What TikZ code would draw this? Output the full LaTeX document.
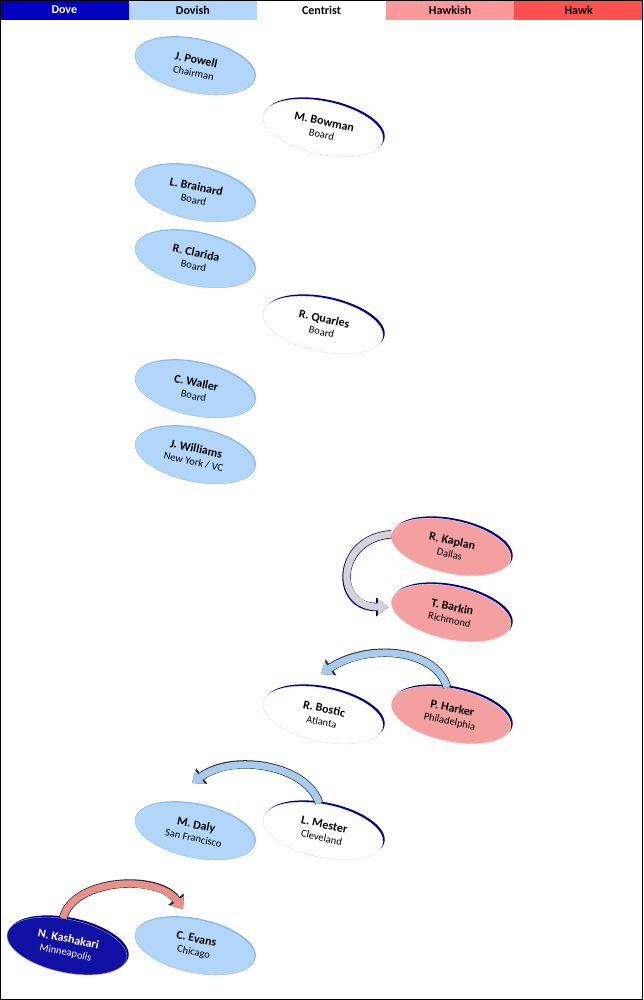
\documentclass[tikz,border=0pt]{standalone}
\usepackage{fontspec}
\setmainfont{Carlito}
\usepackage{tikz}
\usetikzlibrary{shapes.geometric}
\usetikzlibrary{shadows}
\usetikzlibrary{arrows.meta}

\definecolor{doveblue}{RGB}{0,0,192}
\definecolor{dovishblue}{RGB}{178,214,250}
\definecolor{dovishrim}{RGB}{140,185,235}
\definecolor{hawkishpink}{RGB}{255,153,153}
\definecolor{hawkpink}{RGB}{244,160,160}
\definecolor{hawkred}{RGB}{255,80,80}
\definecolor{rimnavy}{RGB}{0,0,128}
\definecolor{dovenavy}{RGB}{16,16,165}
\definecolor{arrowblue}{RGB}{168,204,238}
\definecolor{arrowpink}{RGB}{232,144,138}
\definecolor{arrowgrey}{RGB}{212,212,212}
\definecolor{arrowline}{RGB}{40,40,40}

\newcommand{\seat}[2]{\textbf{#1}\\[1pt]{\fontsize{10.5}{11}\selectfont #2}}

\begin{document}
\begin{tikzpicture}[x=1pt,y=-1pt,
	band/.style={rectangle, minimum width=128.6pt, minimum height=20pt, inner sep=0pt, font=\bfseries\fontsize{12}{14}\selectfont},
	member/.style={ellipse, minimum width=122pt, minimum height=53pt, inner sep=0pt, rotate=-12, align=center, font=\fontsize{12}{12}\selectfont},
	dovish/.style={member, fill=dovishblue, draw=dovishrim, line width=0.4pt, drop shadow={shadow xshift=1pt, shadow yshift=1pt, fill=dovishrim, opacity=1}},
	centrist/.style={member, fill=white, draw=white!85!blue, line width=0.4pt, drop shadow={shadow xshift=1.8pt, shadow yshift=1.8pt, fill=rimnavy, opacity=1}},
	hawkish/.style={member, fill=hawkpink, draw=white!80!hawkpink, line width=0.4pt, drop shadow={shadow xshift=1.8pt, shadow yshift=1.8pt, fill=rimnavy, opacity=1}},
	dove/.style={member, fill=dovenavy, text=white, draw=white!60!dovenavy, line width=0.4pt, drop shadow={shadow xshift=1.8pt, shadow yshift=1.8pt, fill=rimnavy, opacity=1}},
	swing/.style 2 args={line width=7pt, draw=#1, -{Triangle[width=16pt,length=10pt,line width=0.3pt]}, preaction={draw=#2, line width=8.4pt, -{Triangle[width=19pt,length=12pt,line width=0.3pt]}}}]

	\useasboundingbox (0,0) rectangle (643,1000);

	% colour key
	\node[band, fill=doveblue, text=white] (dove) at (64.3,10) {Dove};
	\node[band, fill=dovishblue] (dovish) at (192.9,10) {Dovish};
	\node[band, fill=white] (centrist) at (321.5,10) {Centrist};
	\node[band, fill=hawkishpink] (hawkish) at (450.1,10) {Hawkish};
	\node[band, fill=hawkred] (hawk) at (578.7,10) {Hawk};

	% board
	\node[dovish] (powell) at (195,66) {\seat{J. Powell}{Chairman}};
	\node[centrist] (bowman) at (323,128) {\seat{M. Bowman}{Board}};
	\node[dovish] (brainard) at (195,193) {\seat{L. Brainard}{Board}};
	\node[dovish] (clarida) at (195,259) {\seat{R. Clarida}{Board}};
	\node[centrist] (quarles) at (323,325) {\seat{R. Quarles}{Board}};
	\node[dovish] (waller) at (195,389) {\seat{C. Waller}{Board}};
	\node[dovish] (williams) at (195,455) {\seat{J. Williams}{New York / VC}};

	% regional banks
	\node[hawkish] (kaplan) at (451,547) {\seat{R. Kaplan}{Dallas}};
	\node[hawkish] (barkin) at (451,613) {\seat{T. Barkin}{Richmond}};
	\node[centrist] (bostic) at (323,715) {\seat{R. Bostic}{Atlanta}};
	\node[hawkish] (harker) at (451,715) {\seat{P. Harker}{Philadelphia}};
	\node[dovish] (daly) at (195,831) {\seat{M. Daly}{San Francisco}};
	\node[centrist] (mester) at (323,831) {\seat{L. Mester}{Cleveland}};
	\node[dove] (kashakari) at (67,946) {\seat{N. Kashakari}{Minneapolis}};
	\node[dovish] (evans) at (195,946) {\seat{C. Evans}{Chicago}};

	% where the arrows land
	\coordinate (barkin-in) at (388,607);
	\coordinate (bostic-in) at (321,674);
	\coordinate (daly-in) at (192,783);
	\coordinate (evans-in) at (183,909);

	\draw[swing={arrowgrey}{rimnavy}] (kaplan.west) .. controls +(-55,4) and +(-55,0) .. (barkin-in);
	\draw[swing={arrowblue}{arrowline}] (harker.110) .. controls +(-12,-40) and +(45,-30) .. (bostic-in);
	\draw[swing={arrowblue}{arrowline}] (mester.110) .. controls +(-12,-38) and +(42,-30) .. (daly-in);
	\draw[swing={arrowpink}{arrowline}] (kashakari.110) .. controls +(10,-40) and +(-25,-35) .. (evans-in);

	\draw[line width=1pt] (0.5,0.5) rectangle (642.5,999.5);
\end{tikzpicture}
\end{document}
